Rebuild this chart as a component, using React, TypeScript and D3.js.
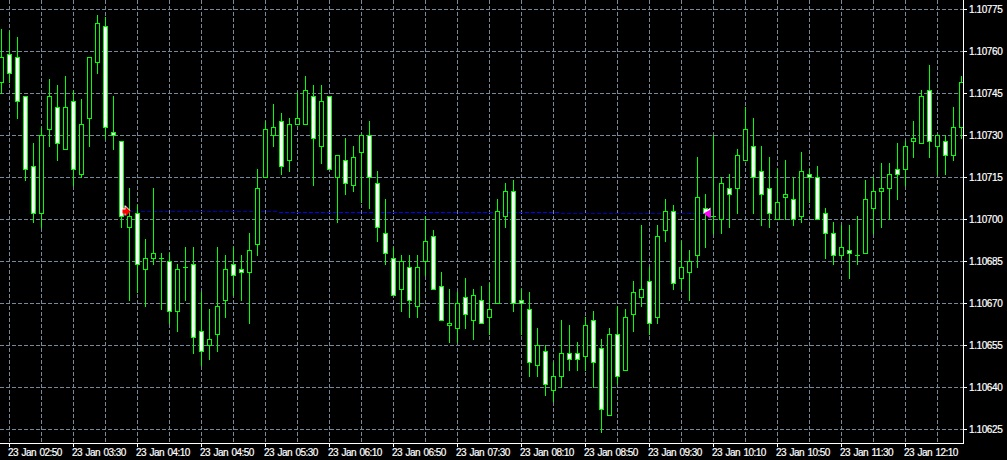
import React from 'react';
import * as d3 from 'd3';

const WIDTH = 1007;
const HEIGHT = 460;
const AXIS_X = 963;
const AXIS_Y = 443;
const GRID_COLOR = '#778899';
const CANDLE_COLOR = '#00ff00';

// five minute bars, oldest first
const opens = [
  1.10749, 1.10759, 1.10758, 1.10744, 1.10719, 1.10702, 1.10732, 1.10740, 1.10725, 1.10742,
  1.10716, 1.10736, 1.10756, 1.10769, 1.10731, 1.10728, 1.10697, 1.10702, 1.10682, 1.10686,
  1.10686, 1.10685, 1.10667, 1.10683, 1.10684, 1.10660, 1.10655, 1.10659, 1.10671, 1.10684,
  1.10682, 1.10681, 1.10691, 1.10715, 1.10730, 1.10735, 1.10721, 1.10734, 1.10734, 1.10744,
  1.10726, 1.10744, 1.10715, 1.10721, 1.10712, 1.10724, 1.10730, 1.10713, 1.10695, 1.10686,
  1.10675, 1.10683, 1.10669, 1.10685, 1.10694, 1.10676, 1.10662, 1.10661, 1.10672, 1.10664,
  1.10671, 1.10665, 1.10670, 1.10701, 1.10710, 1.10671, 1.10668, 1.10648, 1.10653, 1.10639,
  1.10644, 1.10652, 1.10652, 1.10651, 1.10664, 1.10654, 1.10630, 1.10659, 1.10646, 1.10666,
  1.10672, 1.10678, 1.10665, 1.10696, 1.10703, 1.10679, 1.10681, 1.10687, 1.10704, 1.10701,
  1.10700, 1.10711, 1.10711, 1.10721, 1.10726, 1.10717, 1.10711, 1.10700, 1.10708, 1.10707,
  1.10701, 1.10716, 1.10715, 1.10702, 1.10695, 1.10687, 1.10689, 1.10687, 1.10688, 1.10704,
  1.10710, 1.10711, 1.10718, 1.10718, 1.10728, 1.10727, 1.10746, 1.10726, 1.10728, 1.10723, 1.10733,
];
const closes = [
  1.10758, 1.10752, 1.10742, 1.10718, 1.10702, 1.10730, 1.10744, 1.10727, 1.10740, 1.10718,
  1.10734, 1.10758, 1.10770, 1.10733, 1.10730, 1.10701, 1.10701, 1.10684, 1.10686, 1.10688,
  1.10686, 1.10667, 1.10682, 1.10683, 1.10658, 1.10653, 1.10657, 1.10669, 1.10682, 1.10680,
  1.10681, 1.10689, 1.10711, 1.10732, 1.10733, 1.10719, 1.10734, 1.10736, 1.10746, 1.10729,
  1.10742, 1.10718, 1.10723, 1.10713, 1.10722, 1.10730, 1.10715, 1.10697, 1.10688, 1.10673,
  1.10685, 1.10671, 1.10683, 1.10692, 1.10675, 1.10664, 1.10663, 1.10670, 1.10666, 1.10673,
  1.10663, 1.10668, 1.10703, 1.10710, 1.10670, 1.10670, 1.10649, 1.10655, 1.10641, 1.10644,
  1.10652, 1.10650, 1.10650, 1.10662, 1.10649, 1.10632, 1.10659, 1.10644, 1.10665, 1.10674,
  1.10675, 1.10663, 1.10694, 1.10703, 1.10677, 1.10683, 1.10685, 1.10708, 1.10702, 1.10701,
  1.10713, 1.10709, 1.10723, 1.10732, 1.10715, 1.10709, 1.10702, 1.10706, 1.10709, 1.10700,
  1.10717, 1.10715, 1.10700, 1.10695, 1.10687, 1.10690, 1.10688, 1.10687, 1.10707, 1.10710,
  1.10711, 1.10716, 1.10716, 1.10726, 1.10729, 1.10744, 1.10728, 1.10730, 1.10723, 1.10733, 1.10749,
];
const highs = [
  1.10768, 1.10767, 1.10765, 1.10744, 1.10727, 1.10733, 1.10750, 1.10748, 1.10751, 1.10746,
  1.10743, 1.10758, 1.10773, 1.10772, 1.10744, 1.10728, 1.10711, 1.10705, 1.10693, 1.10711,
  1.10688, 1.10688, 1.10684, 1.10690, 1.10690, 1.10674, 1.10668, 1.10690, 1.10687, 1.10690,
  1.10687, 1.10695, 1.10718, 1.10735, 1.10741, 1.10738, 1.10736, 1.10745, 1.10751, 1.10748,
  1.10748, 1.10744, 1.10723, 1.10729, 1.10726, 1.10730, 1.10735, 1.10717, 1.10707, 1.10690,
  1.10687, 1.10687, 1.10687, 1.10701, 1.10696, 1.10681, 1.10675, 1.10674, 1.10679, 1.10675,
  1.10676, 1.10677, 1.10707, 1.10713, 1.10714, 1.10675, 1.10674, 1.10661, 1.10655, 1.10649,
  1.10664, 1.10662, 1.10656, 1.10665, 1.10667, 1.10657, 1.10661, 1.10669, 1.10668, 1.10678,
  1.10698, 1.10683, 1.10698, 1.10707, 1.10705, 1.10692, 1.10689, 1.10722, 1.10709, 1.10730,
  1.10715, 1.10716, 1.10725, 1.10740, 1.10736, 1.10726, 1.10722, 1.10718, 1.10721, 1.10715,
  1.10724, 1.10718, 1.10719, 1.10704, 1.10699, 1.10698, 1.10698, 1.10701, 1.10714, 1.10715,
  1.10720, 1.10720, 1.10727, 1.10728, 1.10735, 1.10746, 1.10755, 1.10730, 1.10730, 1.10740, 1.10751,
];
const lows = [
  1.10745, 1.10749, 1.10736, 1.10714, 1.10699, 1.10697, 1.10726, 1.10721, 1.10725, 1.10712,
  1.10715, 1.10726, 1.10752, 1.10729, 1.10725, 1.10697, 1.10671, 1.10674, 1.10669, 1.10684,
  1.10668, 1.10663, 1.10660, 1.10671, 1.10652, 1.10648, 1.10650, 1.10653, 1.10665, 1.10673,
  1.10671, 1.10663, 1.10687, 1.10715, 1.10726, 1.10716, 1.10717, 1.10734, 1.10734, 1.10712,
  1.10720, 1.10718, 1.10699, 1.10709, 1.10710, 1.10706, 1.10704, 1.10692, 1.10684, 1.10673,
  1.10667, 1.10665, 1.10665, 1.10680, 1.10675, 1.10664, 1.10656, 1.10656, 1.10661, 1.10657,
  1.10663, 1.10659, 1.10670, 1.10697, 1.10667, 1.10659, 1.10644, 1.10644, 1.10637, 1.10635,
  1.10640, 1.10646, 1.10646, 1.10646, 1.10640, 1.10624, 1.10630, 1.10641, 1.10646, 1.10660,
  1.10669, 1.10659, 1.10663, 1.10692, 1.10675, 1.10675, 1.10671, 1.10683, 1.10690, 1.10695,
  1.10695, 1.10697, 1.10702, 1.10721, 1.10702, 1.10698, 1.10697, 1.10700, 1.10700, 1.10698,
  1.10699, 1.10706, 1.10700, 1.10686, 1.10684, 1.10686, 1.10679, 1.10684, 1.10688, 1.10695,
  1.10697, 1.10700, 1.10707, 1.10712, 1.10722, 1.10727, 1.10722, 1.10716, 1.10716, 1.10721, 1.10729,
];

const priceLabels = ['1.10775', '1.10760', '1.10745', '1.10730', '1.10715', '1.10700', '1.10685', '1.10670', '1.10655', '1.10640', '1.10625'];
const timeLabels = ['02:50', '03:30', '04:10', '04:50', '05:30', '06:10', '06:50', '07:30', '08:10', '08:50', '09:30', '10:10', '10:50', '11:30', '12:10'];

// order line: entry bar and price, exit bar and price
const tradeBars = [16, 88];
const tradePrices = [1.1070286, 1.1070214];

const x = d3.scaleLinear().domain([0, 120]).range([1, 961]);
const y = d3.scaleLinear().domain([1.10625, 1.10775]).range([429, 9]);
const px = (v: number) => Math.round(v) + 0.5;

const gridBars = d3.range(1, 120, 4);
const labelBars = timeLabels.map((_, i) => 1 + i * 8);

const tradeDashes = () => {
  const x0 = Math.round(x(tradeBars[0]));
  const x1 = Math.round(x(tradeBars[1]));
  const lineY = d3.scaleLinear().domain([x0, x1]).range([y(tradePrices[0]), y(tradePrices[1])]);
  return d3.range(x0, x1, 6).map((start) => ({ start, row: Math.round(lineY(start)) }));
};

export default function App() {
  const dashes = tradeDashes();
  const entryX = px(x(tradeBars[0]));
  const exitX = px(x(tradeBars[1]));
  const entryY = px(y(tradePrices[0]));
  const exitY = px(y(tradePrices[1]));

  return (
    <svg
      width={WIDTH}
      height={HEIGHT}
      style={{ position: 'absolute', left: 0, top: 0, display: 'block', background: '#000' }}
    >
      <rect width={WIDTH} height={HEIGHT} fill="#000" />

      <g stroke={GRID_COLOR} strokeDasharray="4 2" shapeRendering="crispEdges">
        {priceLabels.map((label) => (
          <line key={label} x1={0} x2={AXIS_X} y1={px(y(+label))} y2={px(y(+label))} />
        ))}
        {gridBars.map((b) => (
          <line key={b} x1={px(x(b))} x2={px(x(b))} y1={0} y2={AXIS_Y} />
        ))}
      </g>

      <g shapeRendering="crispEdges">
        {dashes.map((d) => (
          <line
            key={d.start}
            x1={d.start}
            x2={d.start + 4}
            y1={d.row + 0.5}
            y2={d.row + 0.5}
            stroke={d.row === 212 ? '#0000ff' : '#0000b0'}
          />
        ))}
      </g>

      <g shapeRendering="crispEdges" stroke={CANDLE_COLOR}>
        {opens.map((open, i) => {
          const close = closes[i];
          const cx = px(x(i));
          const top = px(y(Math.max(open, close)));
          const bottom = px(y(Math.min(open, close)));
          return (
            <g key={i}>
              <line x1={cx} x2={cx} y1={px(y(highs[i])) - 0.5} y2={px(y(lows[i])) + 0.5} />
              {top === bottom ? (
                <line x1={cx - 2.5} x2={cx + 2.5} y1={top} y2={top} />
              ) : (
                <rect
                  x={cx - 2}
                  y={top}
                  width={4}
                  height={bottom - top}
                  fill={close < open ? '#fff' : '#000'}
                />
              )}
            </g>
          );
        })}
      </g>

      <g transform={`translate(${entryX},${entryY})`}>
        <path d="M-8,-3 H-5 V-6 H-4 L1,-1 L-4,4 H-5 V1 H-8 Z" fill="#fff" />
        <path d="M-7,-2 H-4 V-5 L1,0 L-4,5 V2 H-7 Z" fill="#ff0000" />
      </g>
      <g transform={`translate(${exitX},${exitY})`}>
        <path d="M-2,0 L5,-5 V5 Z" fill="#fff" transform="translate(0,-1)" />
        <path d="M-2,0 L5,-4 V5 Z" fill="#ff00ff" />
      </g>

      <g stroke="#fff" shapeRendering="crispEdges">
        <line x1={px(AXIS_X)} x2={px(AXIS_X)} y1={0} y2={AXIS_Y + 1} />
        <line x1={0} x2={AXIS_X + 1} y1={px(AXIS_Y)} y2={px(AXIS_Y)} />
        {priceLabels.map((label) => (
          <line key={label} x1={AXIS_X} x2={AXIS_X + 4} y1={px(y(+label))} y2={px(y(+label))} />
        ))}
        {labelBars.map((b) => (
          <line key={b} x1={px(x(b))} x2={px(x(b))} y1={AXIS_Y} y2={AXIS_Y + 4} />
        ))}
      </g>

      <g fill="#fff" stroke="#fff" strokeWidth={0.2} fontFamily="'Liberation Sans', sans-serif" fontSize={10}>
        {priceLabels.map((label) => (
          <text key={label} x={969} y={px(y(+label)) + 3.5} letterSpacing={-0.4}>
            {label}
          </text>
        ))}
        {timeLabels.map((label, i) => (
          <text
            key={label}
            x={px(x(labelBars[i])) - 1.5}
            y={456}
            letterSpacing={-0.6}
            wordSpacing={1.5}
          >
            {`23 Jan ${label}`}
          </text>
        ))}
      </g>
    </svg>
  );
}
